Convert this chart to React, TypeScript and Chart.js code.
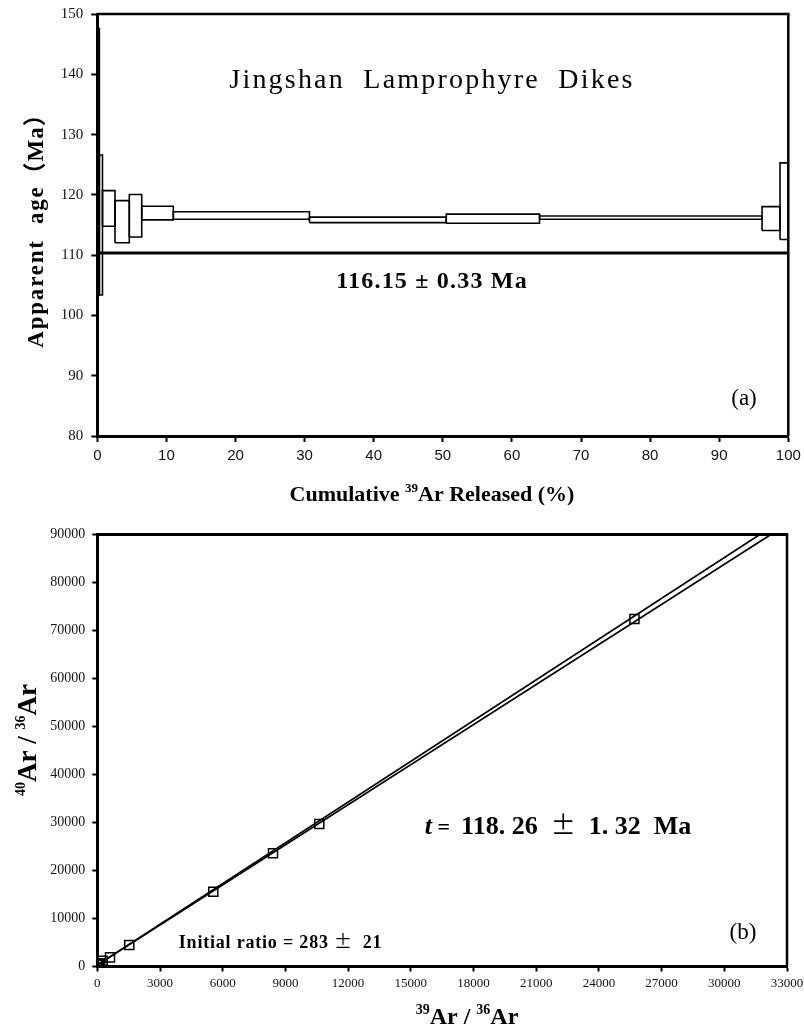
import React, { useEffect, useRef } from 'react';
import { Chart, registerables } from 'chart.js';
Chart.register(...registerables);

// ---------- (a) Age spectrum ----------
const stepCumStart = [0, 0.3, 0.75, 2.56, 4.63, 6.43, 11.0, 30.7, 50.5, 64.0, 96.2, 98.8];
const stepCumEnd = [0.3, 0.75, 2.56, 4.63, 6.43, 11.0, 30.7, 50.5, 64.0, 96.2, 98.8, 100];
const stepAgeLow = [103.4, 103.4, 114.8, 112.05, 113.0, 115.85, 115.95, 115.4, 115.3, 115.95, 114.1, 112.6];
const stepAgeHigh = [147.6, 126.6, 120.7, 119.05, 120.05, 118.1, 117.2, 116.3, 116.8, 116.5, 118.05, 125.3];
const plateauLineX = [0, 100];
const plateauLineAge = [110.35, 110.35];
const ageTicks = [80, 90, 100, 110, 120, 130, 140, 150];
const cumTicks = [0, 10, 20, 30, 40, 50, 60, 70, 80, 90, 100];

// ---------- (b) Isochron ----------
const ratio39_36 = [5, 18, 40, 75, 140, 258, 608, 1531, 5550, 8407, 10622, 25700];
const ratio40_36 = [300, 340, 400, 480, 650, 1200, 1900, 4480, 15580, 23580, 29690, 72400];
const isoLine1X = [0, 31700];
const isoLine1Y = [283, 90000];
const isoLine2X = [0, 32230];
const isoLine2Y = [283, 90000];
const ratio39Ticks = [0, 3000, 6000, 9000, 12000, 15000, 18000, 21000, 24000, 27000, 30000, 33000];
const ratio40Ticks = [0, 10000, 20000, 30000, 40000, 50000, 60000, 70000, 80000, 90000];

const SERIF = "'Liberation Serif', 'Times New Roman', serif";
const SANS = "'Liberation Sans', Arial, sans-serif";
const CJK = "'Noto Sans CJK SC', sans-serif";

const W = 804;
const H1 = 505;
const H2 = 522;

type Run = { t: string; font: string; dy?: number; ls?: number };

function drawRuns(ctx: CanvasRenderingContext2D, runs: Run[], cx: number, cy: number, rotate = false) {
  ctx.save();
  ctx.translate(cx, cy);
  if (rotate) ctx.rotate(-Math.PI / 2);
  ctx.textBaseline = 'alphabetic';
  ctx.textAlign = 'left';
  ctx.fillStyle = '#000';
  const widths = runs.map((r) => {
    ctx.font = r.font;
    (ctx as any).letterSpacing = (r.ls || 0) + 'px';
    return ctx.measureText(r.t).width;
  });
  const total = widths.reduce((a, b) => a + b, 0);
  let x = -total / 2;
  runs.forEach((r, i) => {
    ctx.font = r.font;
    (ctx as any).letterSpacing = (r.ls || 0) + 'px';
    ctx.fillText(r.t, x, r.dy || 0);
    x += widths[i];
  });
  ctx.restore();
}

function framePlugin(id: string, topW: number, rightW: number) {
  return {
    id,
    afterDraw(chart: any) {
      const { ctx, chartArea } = chart;
      ctx.save();
      ctx.strokeStyle = '#000';
      ctx.lineWidth = topW;
      ctx.beginPath();
      ctx.moveTo(chartArea.left, chartArea.top);
      ctx.lineTo(chartArea.right + rightW / 2, chartArea.top);
      ctx.stroke();
      ctx.lineWidth = rightW;
      ctx.beginPath();
      ctx.moveTo(chartArea.right, chartArea.top);
      ctx.lineTo(chartArea.right, chartArea.bottom);
      ctx.stroke();
      ctx.restore();
    },
  };
}

export default function App() {
  const ref1 = useRef<HTMLCanvasElement>(null);
  const ref2 = useRef<HTMLCanvasElement>(null);

  useEffect(() => {
    const stepDatasets = stepCumStart.map((c0, i) => ({
      data: [
        { x: c0, y: stepAgeLow[i] },
        { x: c0, y: stepAgeHigh[i] },
        { x: stepCumEnd[i], y: stepAgeHigh[i] },
        { x: stepCumEnd[i], y: stepAgeLow[i] },
        { x: c0, y: stepAgeLow[i] },
      ],
      showLine: true,
      borderColor: '#000',
      borderWidth: 1.6,
      pointRadius: 0,
      fill: false,
      tension: 0,
    }));
    const plateau = {
      data: plateauLineX.map((x, i) => ({ x, y: plateauLineAge[i] })),
      showLine: true,
      borderColor: '#000',
      borderWidth: 3,
      pointRadius: 0,
      fill: false,
    };

    const textA = {
      id: 'textA',
      afterDraw(chart: any) {
        const ctx = chart.ctx as CanvasRenderingContext2D;
        drawRuns(ctx, [{ t: 'Jingshan  Lamprophyre  Dikes', font: `28px ${SERIF}`, ls: 2.2 }], 432, 88);
        drawRuns(ctx, [{ t: '116.15 \u00b1 0.33 Ma', font: `bold 24px ${SERIF}`, ls: 1.2 }], 432, 288);
        drawRuns(ctx, [{ t: '(a)', font: `23px ${SERIF}` }], 744, 405);
        drawRuns(
          ctx,
          [
            { t: 'Cumulative ', font: `bold 22px ${SERIF}` },
            { t: '39', font: `bold 13px ${SERIF}`, dy: -9 },
            { t: 'Ar Released (%)', font: `bold 22px ${SERIF}` },
          ],
          432,
          501
        );
        drawRuns(
          ctx,
          [
            { t: 'Apparent  age', font: `bold 23px ${SERIF}`, ls: 1.8 },
            { t: '\uff08Ma\uff09', font: `bold 23px ${SERIF}, ${CJK}`, ls: 1 },
          ],
          35 + 8,
          225,
          true
        );
      },
    };

    const c1 = new Chart(ref1.current!, {
      type: 'scatter',
      data: { datasets: [plateau, ...stepDatasets] as any },
      options: {
        animation: false,
        responsive: false,
        devicePixelRatio: 1,
        plugins: { legend: { display: false }, tooltip: { enabled: false } },
        layout: { padding: { top: 14, right: W - 788.3, left: 0, bottom: 0 } },
        scales: {
          x: {
            type: 'linear',
            min: 0,
            max: 100,
            afterBuildTicks: (s: any) => {
              s.ticks = cumTicks.map((v) => ({ value: v }));
            },
            afterFit: (s: any) => {
              s.height = H1 - 436;
              s.paddingLeft = 0;
              s.paddingRight = 0;
            },
            ticks: { font: { family: SANS, size: 15 }, color: '#111', padding: 5, maxRotation: 0, autoSkip: false },
            grid: { display: true, drawOnChartArea: false, drawTicks: true, tickLength: 6, tickWidth: 2, tickColor: '#000', color: '#000' },
            border: { display: true, width: 3, color: '#000', z: 1 },
          },
          y: {
            type: 'linear',
            min: 80,
            max: 150,
            afterBuildTicks: (s: any) => {
              s.ticks = ageTicks.map((v) => ({ value: v }));
            },
            afterFit: (s: any) => {
              s.width = 97.3;
              s.paddingTop = 0;
              s.paddingBottom = 0;
            },
            ticks: { font: { family: SERIF, size: 15 }, color: '#111', padding: 8, autoSkip: false },
            grid: { display: true, drawOnChartArea: false, drawTicks: true, tickLength: 6, tickWidth: 2, tickColor: '#000', color: '#000' },
            border: { display: true, width: 3, color: '#000', z: 1 },
          },
        },
      } as any,
      plugins: [framePlugin('frameA', 2.5, 2.5), textA],
    });

    const points = {
      data: ratio39_36.map((x, i) => ({ x, y: ratio40_36[i] })),
      showLine: false,
      pointStyle: 'rect',
      pointRadius: 6.4,
      pointBorderWidth: 1.5,
      pointBorderColor: '#000',
      pointBackgroundColor: 'rgba(0,0,0,0)',
    };
    const line1 = {
      data: isoLine1X.map((x, i) => ({ x, y: isoLine1Y[i] })),
      showLine: true,
      borderColor: '#000',
      borderWidth: 1.7,
      pointRadius: 0,
      fill: false,
    };
    const line2 = {
      data: isoLine2X.map((x, i) => ({ x, y: isoLine2Y[i] })),
      showLine: true,
      borderColor: '#000',
      borderWidth: 1.7,
      pointRadius: 0,
      fill: false,
    };

    const off = H1;
    const textB = {
      id: 'textB',
      afterDraw(chart: any) {
        const ctx = chart.ctx as CanvasRenderingContext2D;
        drawRuns(
          ctx,
          [
            { t: 't', font: `italic bold 26px ${SERIF}` },
            { t: ' =  ', font: `bold 22px ${SERIF}` },
            { t: '118. 26  ', font: `bold 26px ${SERIF}` },
            { t: '\u00b1', font: `25px ${CJK}` },
            { t: '  1. 32  Ma', font: `bold 26px ${SERIF}` },
          ],
          558,
          834 - off
        );
        drawRuns(
          ctx,
          [
            { t: 'Initial ratio = 283 ', font: `bold 18px ${SERIF}`, ls: 0.8 },
            { t: '\u00b1', font: `18px ${CJK}` },
            { t: '  21', font: `bold 18px ${SERIF}`, ls: 0.8 },
          ],
          280.5,
          948 - off
        );
        drawRuns(ctx, [{ t: '(b)', font: `23px ${SERIF}` }], 743, 939 - off);
        drawRuns(
          ctx,
          [
            { t: '39', font: `bold 14px ${SERIF}`, dy: -10 },
            { t: 'Ar / ', font: `bold 24px ${SERIF}` },
            { t: '36', font: `bold 14px ${SERIF}`, dy: -10 },
            { t: 'Ar', font: `bold 24px ${SERIF}` },
          ],
          467,
          1024 - off
        );
        drawRuns(
          ctx,
          [
            { t: '40', font: `bold 14px ${SERIF}`, dy: -11 },
            { t: 'Ar / ', font: `bold 27px ${SERIF}` },
            { t: '36', font: `bold 14px ${SERIF}`, dy: -11 },
            { t: 'Ar', font: `bold 27px ${SERIF}` },
          ],
          27 + 9,
          740 - off,
          true
        );
      },
    };

    const c2 = new Chart(ref2.current!, {
      type: 'scatter',
      data: { datasets: [line1, line2, points] as any },
      options: {
        animation: false,
        responsive: false,
        devicePixelRatio: 1,
        plugins: { legend: { display: false }, tooltip: { enabled: false } },
        layout: { padding: { top: 534.5 - H1, right: W - 787, left: 0, bottom: 0 } },
        scales: {
          x: {
            type: 'linear',
            min: 0,
            max: 33000,
            afterBuildTicks: (s: any) => {
              s.ticks = ratio39Ticks.map((v) => ({ value: v }));
            },
            afterFit: (s: any) => {
              s.height = H2 - (966.5 - H1);
              s.paddingLeft = 0;
              s.paddingRight = 0;
            },
            ticks: {
              font: { family: SERIF, size: 13 },
              color: '#111',
              padding: 4,
              maxRotation: 0,
              autoSkip: false,
              callback: (v: any) => String(v),
            },
            grid: { display: true, drawOnChartArea: false, drawTicks: true, tickLength: 5, tickWidth: 2, tickColor: '#000', color: '#000' },
            border: { display: true, width: 3, color: '#000', z: 1 },
          },
          y: {
            type: 'linear',
            min: 0,
            max: 90000,
            afterBuildTicks: (s: any) => {
              s.ticks = ratio40Ticks.map((v) => ({ value: v }));
            },
            afterFit: (s: any) => {
              s.width = 97.3;
              s.paddingTop = 0;
              s.paddingBottom = 0;
            },
            ticks: {
              font: { family: SERIF, size: 14 },
              color: '#111',
              padding: 7,
              autoSkip: false,
              callback: (v: any) => String(v),
            },
            grid: { display: true, drawOnChartArea: false, drawTicks: true, tickLength: 5, tickWidth: 2, tickColor: '#000', color: '#000' },
            border: { display: true, width: 3, color: '#000', z: 1 },
          },
        },
      } as any,
      plugins: [framePlugin('frameB', 3, 2.5), textB],
    });

    return () => {
      c1.destroy();
      c2.destroy();
    };
  }, []);

  return (
    <div style={{ position: 'absolute', left: 0, top: 0, width: W, height: H1 + H2, overflow: 'hidden', background: '#fff' }}>
      <canvas ref={ref1} width={W} height={H1} style={{ position: 'absolute', left: 0, top: 0, width: W, height: H1 }} />
      <canvas ref={ref2} width={W} height={H2} style={{ position: 'absolute', left: 0, top: H1, width: W, height: H2 }} />
    </div>
  );
}
